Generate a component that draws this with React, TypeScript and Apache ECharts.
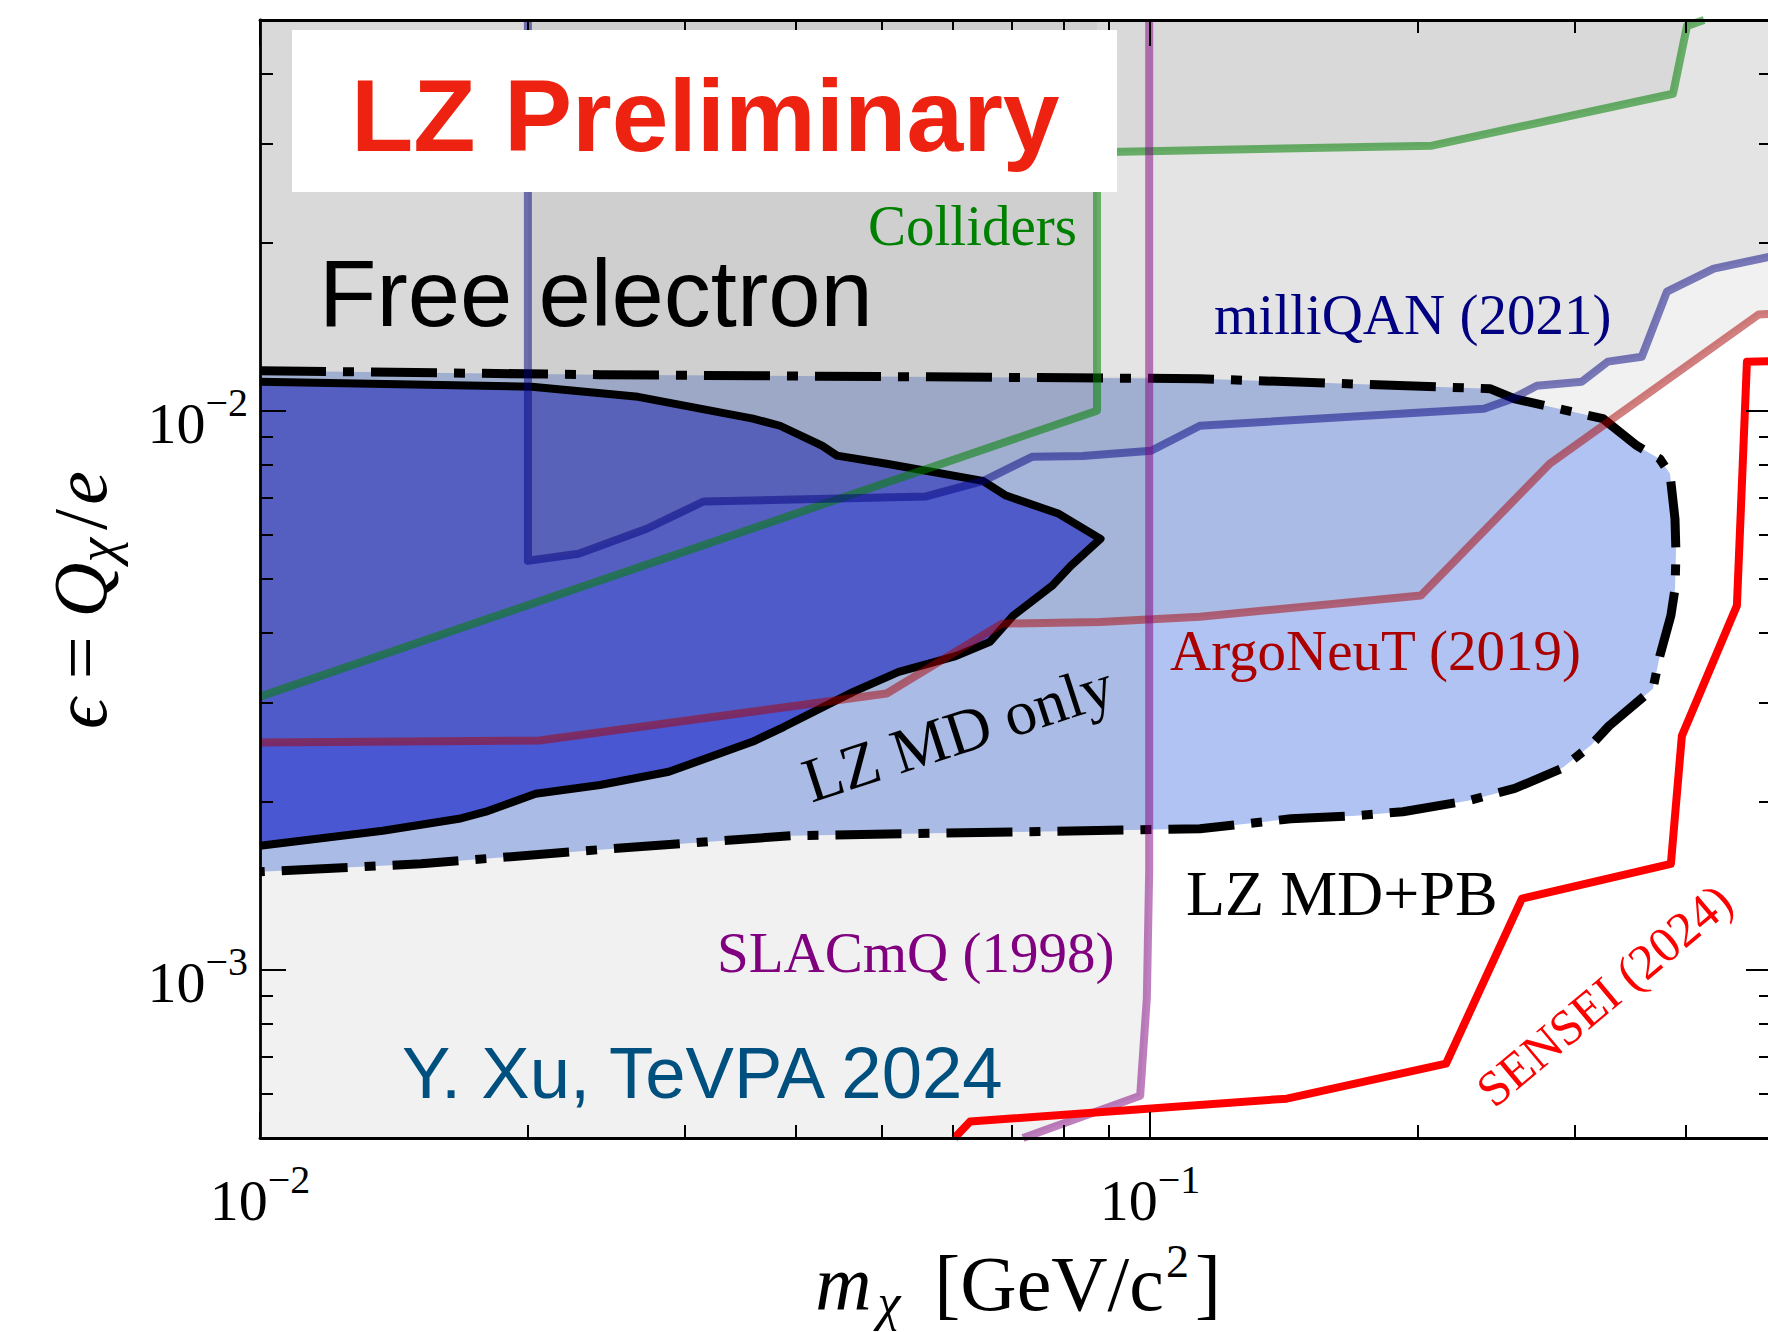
import React, { useEffect, useRef } from "react";
import * as echarts from "echarts";

// ---------- axis ranges & ticks ----------
const xRange = [0.01, 0.5];
const yRange = [0.0005, 0.05];
const xMajorTicks = [0.01, 0.1];
const xMinorTicks = [0.02, 0.03, 0.04, 0.05, 0.06, 0.07, 0.08, 0.09, 0.2, 0.3, 0.4];
const yMajorTicks = [0.001, 0.01];
const yMinorTicks = [
  0.0006, 0.0007, 0.0008, 0.0009, 0.002, 0.003, 0.004, 0.005, 0.006, 0.007, 0.008, 0.009,
  0.02, 0.03, 0.04,
];

// ---------- LZ MD+PB (outer, dash-dot) ----------
const lzMdPbMass = [
  0.01, 0.0241, 0.1138, 0.241, 0.257, 0.3228, 0.3525, 0.374, 0.384, 0.389, 0.39, 0.389, 0.3849,
  0.374, 0.3674, 0.328, 0.313, 0.29, 0.257, 0.2277, 0.1924, 0.1704, 0.144, 0.1138, 0.0395, 0.0241,
  0.01517, 0.01,
];
const lzMdPbEps = [
  1.179e-2, 1.16e-2, 1.141e-2, 1.095e-2, 1.05e-2, 9.68e-3, 8.66e-3, 8.2e-3, 7.71e-3, 6.41e-3,
  5.55e-3, 4.8e-3, 4.3e-3, 3.64e-3, 3.18e-3, 2.73e-3, 2.52e-3, 2.29e-3, 2.11e-3, 2.006e-3, 1.917e-3,
  1.886e-3, 1.862e-3, 1.787e-3, 1.737e-3, 1.64e-3, 1.547e-3, 1.497e-3,
];

// ---------- LZ MD only (inner, solid) ----------
const lzMdOnlyMass = [
  0.01, 0.0202, 0.0266, 0.0358, 0.0384, 0.0428, 0.0445, 0.0506, 0.0649, 0.0689, 0.079, 0.088,
  0.0815, 0.0776, 0.0702, 0.0661, 0.0605, 0.0522, 0.0464, 0.0388, 0.0358, 0.0288, 0.0241, 0.0204,
  0.01794, 0.01673, 0.01374, 0.01,
];
const lzMdOnlyEps = [
  1.127e-2, 1.104e-2, 1.059e-2, 9.68e-3, 9.4e-3, 8.66e-3, 8.31e-3, 8.04e-3, 7.49e-3, 7.05e-3,
  6.54e-3, 5.9e-3, 5.28e-3, 4.86e-3, 4.3e-3, 3.86e-3, 3.64e-3, 3.41e-3, 3.14e-3, 2.72e-3, 2.56e-3,
  2.26e-3, 2.14e-3, 2.064e-3, 1.917e-3, 1.862e-3, 1.773e-3, 1.666e-3,
];

// ---------- existing limits ----------
const collidersMass = [0.01, 0.0872, 0.0872, 0.2074, 0.387, 0.4013, 0.4194];
const collidersEps = [3.08e-3, 1.0e-2, 2.9e-2, 2.98e-2, 3.69e-2, 4.88e-2, 5.0e-2];

const milliqanMass = [
  0.02, 0.02, 0.0228, 0.0272, 0.0315, 0.0559, 0.065, 0.0737, 0.084, 0.1003, 0.1138, 0.2373,
  0.2551, 0.2721, 0.3057, 0.327, 0.357, 0.381, 0.43, 0.5,
];
const milliqanEps = [
  0.05, 5.39e-3, 5.55e-3, 6.15e-3, 6.88e-3, 7.02e-3, 7.49e-3, 8.27e-3, 8.3e-3, 8.48e-3, 9.4e-3,
  1.008e-2, 1.05e-2, 1.108e-2, 1.127e-2, 1.224e-2, 1.249e-2, 1.633e-2, 1.795e-2, 1.89e-2,
];

const argoneutMass = [0.01, 0.0206, 0.0506, 0.0682, 0.0879, 0.1138, 0.2016, 0.2813, 0.483, 0.5];
const argoneutEps = [2.55e-3, 2.57e-3, 3.12e-3, 4.16e-3, 4.19e-3, 4.28e-3, 4.67e-3, 8.04e-3, 1.486e-2, 1.49e-2];

const slacmqMass = [0.0998, 0.0998, 0.0992, 0.0975, 0.072];
const slacmqEps = [0.05, 1.5e-3, 8.9e-4, 5.95e-4, 5e-4];
// shaded SLACmQ region boundary
const slacRegionMass = [0.01, 0.072, 0.0975, 0.0992, 0.0998, 0.0998, 0.0872, 0.0872, 0.01];
const slacRegionEps = [5e-4, 5e-4, 5.95e-4, 8.9e-4, 1.5e-3, 0.0115, 0.0115, 0.05, 0.05];

const senseiMass = [0.0603, 0.0628, 0.1425, 0.2151, 0.2618, 0.3849, 0.396, 0.4566, 0.4686, 0.5];
const senseiEps = [5e-4, 5.35e-4, 5.88e-4, 6.79e-4, 1.34e-3, 1.547e-3, 2.62e-3, 4.48e-3, 1.224e-2, 1.226e-2];

// ---------- helpers ----------
const L = (v: number) => Math.log10(v);
const pts = (ms: number[], es: number[]) => ms.map((m, i) => [L(m), L(es[i])]);
const TOP_RIGHT = [L(xRange[1]), L(yRange[1])];
const TOP_LEFT = [L(xRange[0]), L(yRange[1])];

const GRAY = "rgba(128,128,128,0.11)";
const SERIF = "Liberation Serif";
const SANS = "Liberation Sans";

function polygonSeries(points: number[][], fill: string) {
  return {
    type: "custom",
    coordinateSystem: "cartesian2d",
    silent: true,
    data: [[points[0][0], points[0][1]]],
    renderItem: (_params: any, api: any) => ({
      type: "polygon",
      shape: { points: points.map((p) => api.coord(p)) },
      style: { fill, stroke: null },
    }),
  };
}

function lineSeries(points: number[][], color: string, width: number, type: any = "solid") {
  return {
    type: "line",
    data: points,
    showSymbol: false,
    symbol: "none",
    silent: true,
    clip: true,
    lineStyle: { color, width, type, join: "round", cap: "butt" },
  };
}

const expLabel = (v: number) => `{b|10}{s|\u2212${Math.abs(Math.round(v))}}`;
const expRich = {
  b: { fontFamily: SERIF, fontSize: 58, lineHeight: 70, verticalAlign: "bottom", color: "#000" },
  s: { fontFamily: SERIF, fontSize: 40, lineHeight: 14, verticalAlign: "top", color: "#000" },
};

function makeAxes(kind: "x" | "y") {
  const range = kind === "x" ? xRange : yRange;
  const major = (kind === "x" ? xMajorTicks : yMajorTicks).map(L);
  const minor = (kind === "x" ? xMinorTicks : yMinorTicks).map(L);
  const sides = kind === "x" ? ["bottom", "top"] : ["left", "right"];
  const base = {
    type: "value",
    min: L(range[0]),
    max: L(range[1]),
    z: 5,
    splitLine: { show: false },
    axisPointer: { show: false },
  };
  const axes: any[] = [];
  sides.forEach((side, si) => {
    axes.push({
      ...base,
      position: side,
      axisLine: { show: true, onZero: false, lineStyle: { color: "#000", width: 2.8 } },
      axisTick: {
        show: true,
        inside: true,
        length: 26,
        lineStyle: { color: "#000", width: 2 },
        customValues: major,
      },
      axisLabel:
        si === 0
          ? {
              show: true,
              customValues: major,
              formatter: expLabel,
              rich: expRich,
              margin: kind === "x" ? 21 : 12,
              padding: kind === "x" ? 0 : [14, 0, 0, 0],
            }
          : { show: false },
    });
    axes.push({
      ...base,
      position: side,
      axisLine: { show: false, onZero: false },
      axisTick: {
        show: true,
        inside: true,
        length: 13,
        lineStyle: { color: "#000", width: 2 },
        customValues: minor,
      },
      axisLabel: { show: false },
    });
  });
  return axes;
}

function textEl(
  text: string,
  x: number,
  y: number,
  fill: string,
  fontSize: number,
  fontFamily: string,
  opts: any = {}
) {
  return {
    type: "text",
    x,
    y,
    rotation: opts.rotation || 0,
    z: 60,
    silent: true,
    style: {
      text,
      fill,
      fontSize,
      fontFamily,
      fontWeight: opts.fontWeight || "normal",
      align: opts.align || "left",
      verticalAlign: "middle",
      rich: opts.rich,
    },
  };
}

const xTitleRich = {
  it: { fontFamily: SERIF, fontStyle: "italic", fontSize: 78, lineHeight: 90 },
  rm: { fontFamily: SERIF, fontSize: 78, lineHeight: 90 },
  sub: {
    fontFamily: SERIF,
    fontStyle: "italic",
    fontSize: 52,
    lineHeight: 55,
    verticalAlign: "bottom",
    padding: [0, 34, 0, 6],
  },
  sup: { fontFamily: SERIF, fontSize: 46, lineHeight: 32, verticalAlign: "top", padding: [0, 6, 0, 2] },
};

const yTitleRich = {
  it: { fontFamily: SERIF, fontStyle: "italic", fontSize: 76, lineHeight: 90 },
  rm: { fontFamily: SERIF, fontSize: 76, lineHeight: 90 },
  sl: { fontFamily: SERIF, fontSize: 76, lineHeight: 90, padding: [0, 4, 0, 8] },
  sub: { fontFamily: SERIF, fontStyle: "italic", fontSize: 56, lineHeight: 47, verticalAlign: "bottom" },
};

export default function App() {
  const ref = useRef<HTMLDivElement>(null);

  useEffect(() => {
    if (!ref.current) return;
    const chart = echarts.init(ref.current, null, { renderer: "svg" });

    const option: any = {
      animation: false,
      backgroundColor: "#ffffff",
      grid: { left: 260, top: 20, width: 1512, height: 1118, containLabel: false },
      xAxis: makeAxes("x"),
      yAxis: makeAxes("y"),
      series: [
        polygonSeries(pts(lzMdPbMass, lzMdPbEps), "#b0c3f2"),
        polygonSeries(pts(lzMdOnlyMass, lzMdOnlyEps), "#4353de"),
        polygonSeries([...pts(argoneutMass, argoneutEps), TOP_RIGHT, TOP_LEFT], GRAY),
        polygonSeries([...pts(milliqanMass, milliqanEps), TOP_RIGHT], GRAY),
        polygonSeries([...pts(collidersMass, collidersEps), TOP_LEFT], GRAY),
        polygonSeries(pts(slacRegionMass, slacRegionEps), GRAY),
        lineSeries(pts(lzMdPbMass, lzMdPbEps), "#000", 9, [66, 17, 11, 17]),
        lineSeries(pts(lzMdOnlyMass, lzMdOnlyEps), "#000", 8),
        lineSeries(pts(collidersMass, collidersEps), "rgba(0,128,0,0.55)", 8),
        lineSeries(pts(milliqanMass, milliqanEps), "rgba(0,0,128,0.5)", 8),
        lineSeries(pts(argoneutMass, argoneutEps), "rgba(170,0,0,0.5)", 8),
        lineSeries(pts(slacmqMass, slacmqEps), "rgba(128,0,128,0.5)", 8),
        lineSeries(pts(senseiMass, senseiEps), "#ff0000", 8),
      ],
      graphic: {
        elements: [
          {
            type: "rect",
            z: 50,
            silent: true,
            shape: { x: 292, y: 30, width: 825, height: 162 },
            style: { fill: "#ffffff" },
          },
          textEl("LZ Preliminary", 351, 116, "#ee2211", 102, SANS, { fontWeight: "bold" }),
          textEl("Free electron", 319, 293, "#000000", 94, SANS),
          textEl("Colliders", 868, 225, "#008000", 57, SERIF),
          textEl("milliQAN (2021)", 1214, 314, "#000080", 57, SERIF),
          textEl("ArgoNeuT (2019)", 1170, 650, "#aa0000", 57, SERIF),
          textEl("LZ MD only", 958, 733, "#000000", 63, SERIF, {
            align: "center",
            rotation: (18 * Math.PI) / 180,
          }),
          textEl("LZ MD+PB", 1186, 893, "#000000", 64, SERIF),
          textEl("SLACmQ (1998)", 717, 952, "#800080", 57, SERIF),
          textEl("Y. Xu, TeVPA 2024", 402, 1072, "#00507f", 72.5, SANS),
          textEl("SENSEI (2024)", 1604, 995, "#ff0000", 50, SERIF, {
            align: "center",
            rotation: (40 * Math.PI) / 180,
          }),
          textEl("{it|m}{sub|\u03c7}{rm|[GeV/c}{sup|2}{rm|]}", 1018, 1283, "#000", 78, SERIF, {
            align: "center",
            rich: xTitleRich,
          }),
          textEl("{it|\u03f5}{rm| = }{it|Q}{sub|\u03c7}{sl|/}{it|e}", 80, 600, "#000", 76, SERIF, {
            align: "center",
            rotation: Math.PI / 2,
            rich: yTitleRich,
          }),
        ],
      },
    };

    chart.setOption(option);
    return () => chart.dispose();
  }, []);

  return (
    <div
      style={{
        position: "absolute",
        left: 0,
        top: 0,
        width: 1768,
        height: 1332,
        overflow: "hidden",
        background: "#ffffff",
      }}
    >
      <div ref={ref} style={{ width: 1800, height: 1332 }} />
    </div>
  );
}
